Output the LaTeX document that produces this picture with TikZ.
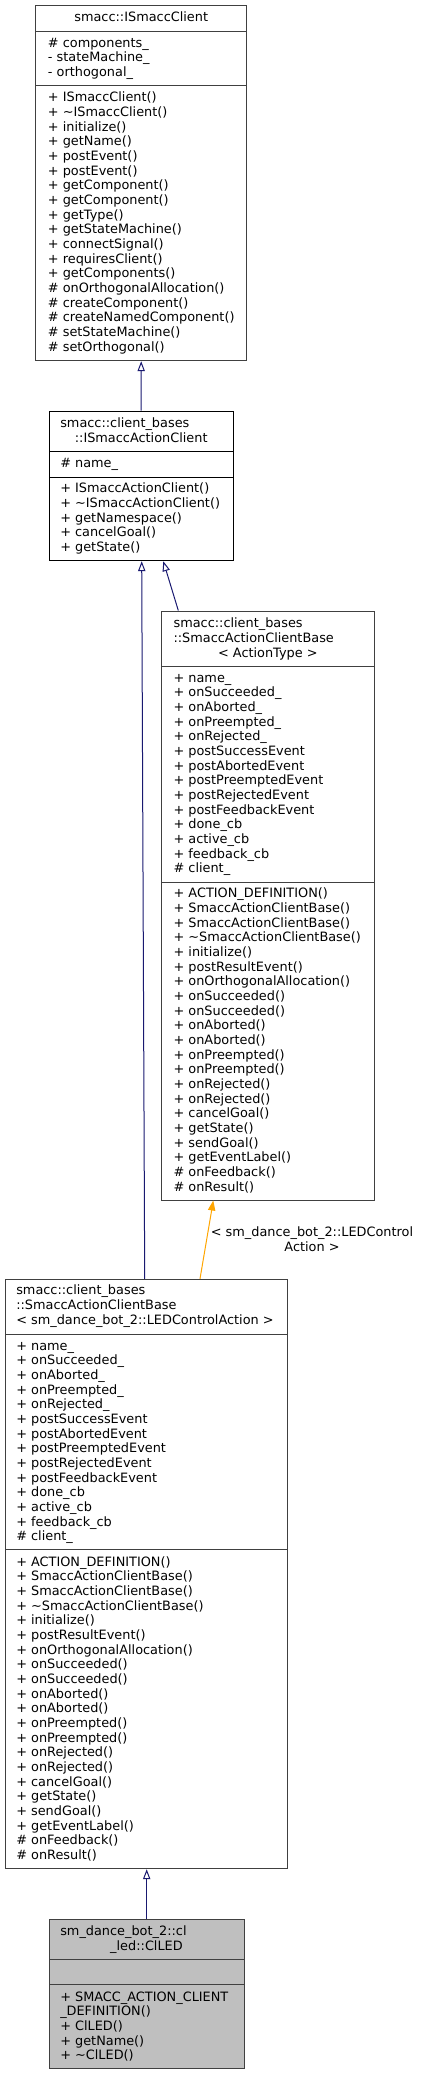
\documentclass[tikz,border=0pt]{standalone}
\usepackage{fontspec}
\setmainfont{DejaVu Sans}
\usetikzlibrary{arrows.meta,fit}
\definecolor{edgeblue}{RGB}{25,25,112}
\definecolor{edgeorange}{RGB}{255,165,0}
\newcommand\scbattrs{+ name\_, + onSucceeded\_, + onAborted\_, + onPreempted\_, + onRejected\_,
  + postSuccessEvent, + postAbortedEvent, + postPreemptedEvent, + postRejectedEvent,
  + postFeedbackEvent, + done\_cb, + active\_cb, + feedback\_cb, \# client\_}
\newcommand\scbmethods{+ ACTION\_DEFINITION(), + SmaccActionClientBase(), + SmaccActionClientBase(),
  + \textasciitilde{}SmaccActionClientBase(), + initialize(), + postResultEvent(),
  + onOrthogonalAllocation(), + onSucceeded(), + onSucceeded(), + onAborted(), + onAborted(),
  + onPreempted(), + onPreempted(), + onRejected(), + onRejected(), + cancelGoal(),
  + getState(), + sendGoal(), + getEventLabel(), \# onFeedback(), \# onResult()}

\begin{document}
\begin{tikzpicture}[x=0.75pt,y=-0.75pt,font=\fontsize{9.65}{11}\selectfont,
  cls/.style={draw=black!75,line width=0.75pt,inner sep=0pt},
  divider/.style={draw=black!75,line width=0.75pt},
  mem/.style={anchor=base west,inner sep=0pt},
  ttl/.style={anchor=base,inner sep=0pt},
  inherit/.style={draw=edgeblue,line width=0.75pt,-{Triangle[open,length=7.5pt,width=5.5pt,fill=white]}},
  tmpl/.style={draw=edgeorange,line width=0.75pt,-{Triangle[length=7.5pt,width=5.5pt]}}]
  \useasboundingbox (0,0) rectangle (421,2075);

  % smacc::ISmaccClient
  \node[cls,fit={(35.7,5.7) (246.7,360.7)}] (isc) {};
  \draw[divider] (35.7,31.3) -- (246.7,31.3) (35.7,85.7) -- (246.7,85.7);
  \node[ttl] (isc-t) at (141.2,21.8) {smacc::ISmaccClient};
  \foreach \s [count=\i from 0] in {\# components\_, - stateMachine\_, - orthogonal\_}
    \node[mem] (isc-a\i) at (47.7,47.2+14.67*\i) {\s};
  \foreach \s [count=\i from 0] in {+ ISmaccClient(), + \textasciitilde{}ISmaccClient(), + initialize(),
      + getName(), + postEvent(), + postEvent(), + getComponent(), + getComponent(), + getType(),
      + getStateMachine(), + connectSignal(), + requiresClient(), + getComponents(),
      \# onOrthogonalAllocation(), \# createComponent(), \# createNamedComponent(),
      \# setStateMachine(), \# setOrthogonal()}
    \node[mem] (isc-m\i) at (47.7,101.8+14.67*\i) {\s};

  % smacc::client_bases::ISmaccActionClient
  \node[cls,draw=black,fit={(49,411) (233.3,560.7)}] (iac) {};
  \draw[divider,draw=black] (49,451) -- (233.3,451) (49,477) -- (233.3,477);
  \node[mem] (iac-t1) at (60,427.2) {smacc::client\_bases};
  \node[ttl] (iac-t2) at (141.2,442.2) {::ISmaccActionClient};
  \node[mem] (iac-a0) at (60,467.2) {\# name\_};
  \foreach \s [count=\i from 0] in {+ ISmaccActionClient(), + \textasciitilde{}ISmaccActionClient(),
      + getNamespace(), + cancelGoal(), + getState()}
    \node[mem] (iac-m\i) at (60,492.8+14.67*\i) {\s};

  % SmaccActionClientBase< ActionType >
  \node[cls,fit={(161.7,611) (374,1200)}] (scb) {};
  \draw[divider] (161.7,666) -- (374,666) (161.7,882) -- (374,882);
  \node[mem] (scb-t1) at (173.3,627.2) {smacc::client\_bases};
  \node[mem] (scb-t2) at (173.3,642.2) {::SmaccActionClientBase};
  \node[ttl] (scb-t3) at (267.85,657.2) {< ActionType >};
  \foreach \s [count=\i from 0] in \scbattrs
    \node[mem] (scb-a\i) at (173.3,682.2+14.67*\i) {\s};
  \foreach \s [count=\i from 0] in \scbmethods
    \node[mem] (scb-m\i) at (173.3,897.8+14.67*\i) {\s};

  % SmaccActionClientBase< LEDControlAction >
  \node[cls,fit={(5,1279.3) (287.7,1868.7)}] (scbled) {};
  \draw[divider] (5,1334) -- (287.7,1334) (5,1549.7) -- (287.7,1549.7);
  \node[mem] (scbled-t1) at (16,1294.8) {smacc::client\_bases};
  \node[mem] (scbled-t2) at (16,1309.8) {::SmaccActionClientBase};
  \node[mem] (scbled-t3) at (16,1324.8) {< sm\_dance\_bot\_2::LEDControlAction >};
  \foreach \s [count=\i from 0] in \scbattrs
    \node[mem] (scbled-a\i) at (16,1350.2+14.67*\i) {\s};
  \foreach \s [count=\i from 0] in \scbmethods
    \node[mem] (scbled-m\i) at (16,1566.2+14.67*\i) {\s};

  % sm_dance_bot_2::cl_led::ClLED
  \node[cls,fill=black!25,fit={(49,1919.3) (244,2068.3)}] (clled) {};
  \draw[divider] (49,1959.3) -- (244,1959.3) (49,1984.3) -- (244,1984.3);
  \node[mem] (clled-t1) at (60,1935.5) {sm\_dance\_bot\_2::cl};
  \node[ttl] (clled-t2) at (146.5,1950.2) {\_led::ClLED};
  \foreach \s [count=\i from 0] in {+ SMACC\_ACTION\_CLIENT, \_DEFINITION(), + ClLED(),
      + getName(), + \textasciitilde{}ClLED()}
    \node[mem] (clled-m\i) at (60,2001.2+14.67*\i) {\s};

  % inheritance
  \draw[inherit] (iac.north) -- (isc.south);
  \draw[inherit] (178.3,0 |- scb.north) -- (163.3,0 |- iac.south);
  \draw[inherit] (144.7,0 |- scbled.north) -- (141.7,0 |- iac.south);
  \draw[tmpl] (200,0 |- scbled.north) -- (213.3,0 |- scb.south);
  \node[inner sep=0pt,align=center] (tmpl-l) at (312,1239) {< sm\_dance\_bot\_2::LEDControl\\Action >};
  \draw[inherit] (146.7,0 |- clled.north) -- (146.7,0 |- scbled.south);
\end{tikzpicture}
\end{document}
